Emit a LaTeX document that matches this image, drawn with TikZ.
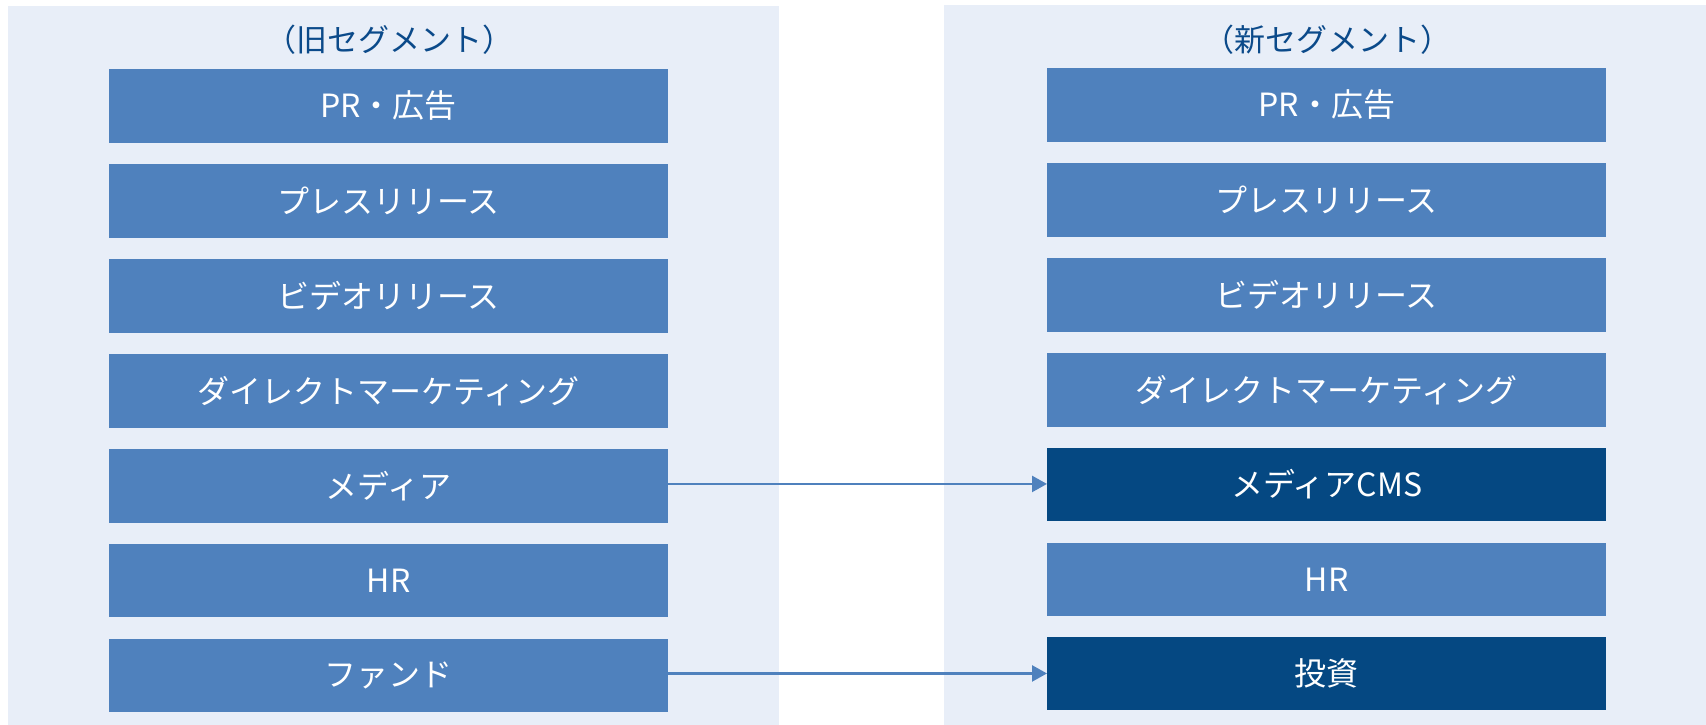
\documentclass[tikz,border=0pt]{standalone}
\usepackage{fontspec}
\setmainfont{Noto Sans CJK JP}
\usetikzlibrary{arrows.meta}
\definecolor{bgblue}{HTML}{E8EEF8}
\definecolor{boxblue}{HTML}{4F81BD}
\definecolor{darkblue}{HTML}{054882}
\definecolor{titleblue}{HTML}{0B4A8A}
\tikzset{
  seg/.style={fill=boxblue, draw=none, minimum width=559pt, minimum height=73.5pt, inner sep=0pt, text=white, font=\fontsize{32}{38}\selectfont, anchor=north west},
  segnew/.style={seg, fill=darkblue},
  panel/.style={fill=bgblue, draw=none},
  ttl/.style={text=titleblue, font=\fontsize{31}{36}\selectfont},
  conn/.style={draw=boxblue, line width=2.5pt, -{Triangle[length=15pt,width=16pt]}}
}
\begin{document}
\begin{tikzpicture}[x=1pt,y=-1pt]
\useasboundingbox (0,0) rectangle (1706,725);
\fill[panel] (8,6) rectangle (779,725);
\fill[panel] (944,5) rectangle (1706,725);
\node[ttl] (tl) at (389,40) {（旧セグメント）};
\node[ttl] (tr) at (1327,40) {（新セグメント）};
% left column
\node[seg] (l1) at (109,69) {PR・広告};
\node[seg] (l2) at (109,164) {プレスリリース};
\node[seg] (l3) at (109,259) {ビデオリリース};
\node[seg] (l4) at (109,354) {ダイレクトマーケティング};
\node[seg] (l5) at (109,449) {メディア};
\node[seg] (l6) at (109,543.5) {HR};
\node[seg] (l7) at (109,638.5) {ファンド};
% right column
\node[seg] (r1) at (1047,68) {PR・広告};
\node[seg] (r2) at (1047,163) {プレスリリース};
\node[seg] (r3) at (1047,258) {ビデオリリース};
\node[seg] (r4) at (1047,353) {ダイレクトマーケティング};
\node[segnew] (r5) at (1047,447.5) {メディアCMS};
\node[seg] (r6) at (1047,542.5) {HR};
\node[segnew] (r7) at (1047,636.5) {投資};
% connectors
\draw[conn] ([yshift=2pt]l5.east) -- ([yshift=2pt]l5.east -| r5.west);
\draw[conn] ([yshift=2pt]l7.east) -- ([yshift=2pt]l7.east -| r7.west);
\end{tikzpicture}
\end{document}
